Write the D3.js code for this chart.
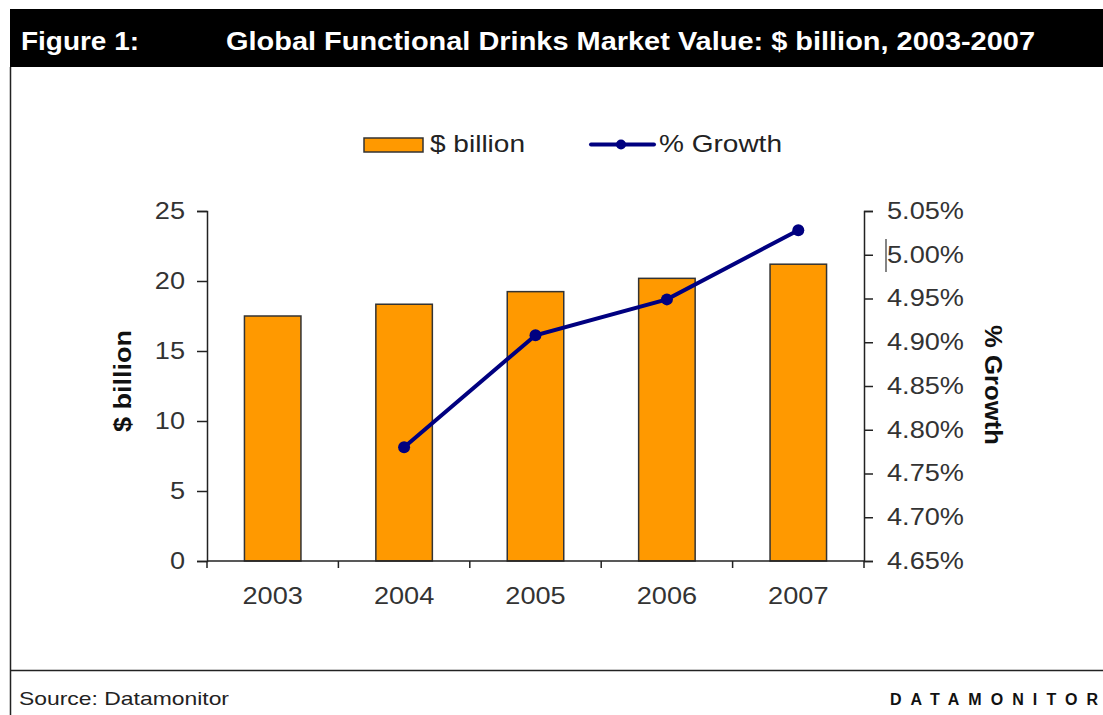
<!DOCTYPE html>
<html>
<head>
<meta charset="utf-8">
<script src="https://cdn.jsdelivr.net/npm/d3@7"></script>
<style>
  html, body { margin: 0; padding: 0; background: #fff; }
  svg { display: block; font-family: "Liberation Sans", Arial, sans-serif; }
</style>
</head>
<body>
<svg id="chart" width="1103" height="715"></svg>
<script>
// Market value and year-on-year growth, 2003-2007
const years = ["2003", "2004", "2005", "2006", "2007"];
const valueBillion = [17.5, 18.34, 19.24, 20.19, 21.2];
const growthPct = [null, 4.78, 4.908, 4.949, 5.028];
const leftTicks = [0, 5, 10, 15, 20, 25];
const rightTicks = [4.65, 4.70, 4.75, 4.80, 4.85, 4.90, 4.95, 5.00, 5.05];

const svg = d3.select("#chart");
const W = 1103, H = 715;
const WIDEN = 1.18; // horizontal stretch of the body text face

// stretch a text element's glyphs horizontally by a factor
function widen(sel, k) {
  sel.each(function () {
    const len = this.getComputedTextLength();
    d3.select(this).attr("textLength", len * k).attr("lengthAdjust", "spacingAndGlyphs");
  });
}

const plot = { left: 207, right: 864, top: 211, bottom: 561 };

const x = d3.scaleBand().domain(years).range([plot.left, plot.right]).paddingInner(0.57).paddingOuter(0.285);
const xTicks = d3.scaleBand().domain(years).range([plot.left, plot.right]);
const yL = d3.scaleLinear().domain([0, 25]).range([plot.bottom, plot.top]);
const yR = d3.scaleLinear().domain([4.65, 5.05]).range([plot.bottom, plot.top]);

// Header band and frame
svg.append("rect").attr("x", 10).attr("y", 9).attr("width", W - 10).attr("height", 58).attr("fill", "#000");
svg.append("text").attr("x", 21).attr("y", 50).attr("fill", "#fff")
  .attr("font-size", 26).attr("font-weight", "bold")
  .attr("textLength", 118).attr("lengthAdjust", "spacingAndGlyphs").text("Figure 1:");
svg.append("text").attr("x", 226).attr("y", 50).attr("fill", "#fff")
  .attr("font-size", 26).attr("font-weight", "bold")
  .attr("textLength", 809).attr("lengthAdjust", "spacingAndGlyphs")
  .text("Global Functional Drinks Market Value: $ billion, 2003-2007");
svg.append("line").attr("x1", 10.5).attr("x2", 10.5).attr("y1", 67).attr("y2", H)
  .attr("stroke", "#222").attr("stroke-width", 1.5);
svg.append("line").attr("x1", 10).attr("x2", W).attr("y1", 670.5).attr("y2", 670.5)
  .attr("stroke", "#222").attr("stroke-width", 1.5);
svg.append("text").attr("x", 19).attr("y", 705).attr("fill", "#222")
  .attr("font-size", 19).attr("textLength", 210).attr("lengthAdjust", "spacingAndGlyphs")
  .text("Source: Datamonitor");
svg.append("text").attr("x", 890).attr("y", 705).attr("fill", "#111")
  .attr("font-size", 16).attr("font-weight", "bold")
  .attr("textLength", 208).attr("lengthAdjust", "spacing").text("DATAMONITOR");

// Bars
svg.append("g").selectAll("rect").data(years).join("rect")
  .attr("x", d => x(d))
  .attr("width", x.bandwidth())
  .attr("y", (d, i) => yL(valueBillion[i]))
  .attr("height", (d, i) => yL(0) - yL(valueBillion[i]))
  .attr("fill", "#FF9900")
  .attr("stroke", "#333")
  .attr("stroke-width", 1.5);

// Axes
const axisColor = "#222";
const gL = svg.append("g").attr("transform", `translate(${plot.left},0)`)
  .call(d3.axisLeft(yL).tickValues(leftTicks).tickSize(10).tickPadding(12).tickFormat(d3.format("d")));
const gR = svg.append("g").attr("transform", `translate(${plot.right},0)`)
  .call(d3.axisRight(yR).tickValues(rightTicks).tickSize(9).tickPadding(14).tickFormat(d => d.toFixed(2) + "%"));
const gB = svg.append("g").attr("transform", `translate(0,${plot.bottom})`)
  .call(d3.axisBottom(xTicks).tickSize(0).tickPadding(27));
// band boundary ticks on the category axis
svg.append("g").selectAll("line").data(d3.range(years.length + 1)).join("line")
  .attr("x1", i => plot.left + i * xTicks.step())
  .attr("x2", i => plot.left + i * xTicks.step())
  .attr("y1", plot.bottom).attr("y2", plot.bottom + 7)
  .attr("stroke", axisColor).attr("stroke-width", 1.5);

[gL, gR, gB].forEach(g => {
  g.select(".domain").attr("stroke", axisColor).attr("stroke-width", 1.5);
  g.selectAll(".tick line").attr("stroke", axisColor).attr("stroke-width", 1.5);
  g.selectAll(".tick text").attr("fill", "#333").attr("font-size", 23)
    .attr("font-family", "Liberation Sans, Arial, sans-serif");
  widen(g.selectAll(".tick text"), WIDEN);
});
gB.select(".domain").attr("d", `M${plot.left},0H${plot.right}`);

// small caret mark beside the 5.00% label
svg.append("line").attr("x1", 886).attr("x2", 886).attr("y1", 239).attr("y2", 272)
  .attr("stroke", "#333").attr("stroke-width", 1.2);

// Growth line
const pts = years.map((d, i) => ({ year: d, v: growthPct[i] })).filter(p => p.v !== null);
const cx = d => xTicks(d) + xTicks.bandwidth() / 2;
svg.append("path").datum(pts)
  .attr("d", d3.line().x(p => cx(p.year)).y(p => yR(p.v)))
  .attr("fill", "none").attr("stroke", "#000080").attr("stroke-width", 4);
svg.append("g").selectAll("circle").data(pts).join("circle")
  .attr("cx", p => cx(p.year)).attr("cy", p => yR(p.v)).attr("r", 6)
  .attr("fill", "#000080");

// Axis titles
svg.append("text").attr("transform", "translate(131,381) rotate(-90)")
  .attr("text-anchor", "middle").attr("font-size", 24).attr("font-weight", "bold")
  .attr("textLength", 102).attr("lengthAdjust", "spacingAndGlyphs")
  .attr("fill", "#111").text("$ billion");
svg.append("text").attr("transform", "translate(985,385) rotate(90)")
  .attr("text-anchor", "middle").attr("font-size", 24).attr("font-weight", "bold")
  .attr("textLength", 120).attr("lengthAdjust", "spacingAndGlyphs")
  .attr("fill", "#111").text("% Growth");

// Legend
const lg = svg.append("g");
lg.append("rect").attr("x", 364).attr("y", 138).attr("width", 59).attr("height", 14)
  .attr("fill", "#FF9900").attr("stroke", "#333").attr("stroke-width", 1.5);
lg.append("text").attr("x", 430).attr("y", 152).attr("font-size", 24).attr("fill", "#222")
  .attr("textLength", 95).attr("lengthAdjust", "spacingAndGlyphs").text("$ billion");
lg.append("line").attr("x1", 591).attr("x2", 654).attr("y1", 144.5).attr("y2", 144.5)
  .attr("stroke", "#000080").attr("stroke-width", 4).attr("stroke-linecap", "round");
lg.append("circle").attr("cx", 621).attr("cy", 144.5).attr("r", 5).attr("fill", "#000080");
lg.append("text").attr("x", 659).attr("y", 152).attr("font-size", 24).attr("fill", "#222")
  .attr("textLength", 123).attr("lengthAdjust", "spacingAndGlyphs").text("% Growth");
</script>
</body>
</html>
